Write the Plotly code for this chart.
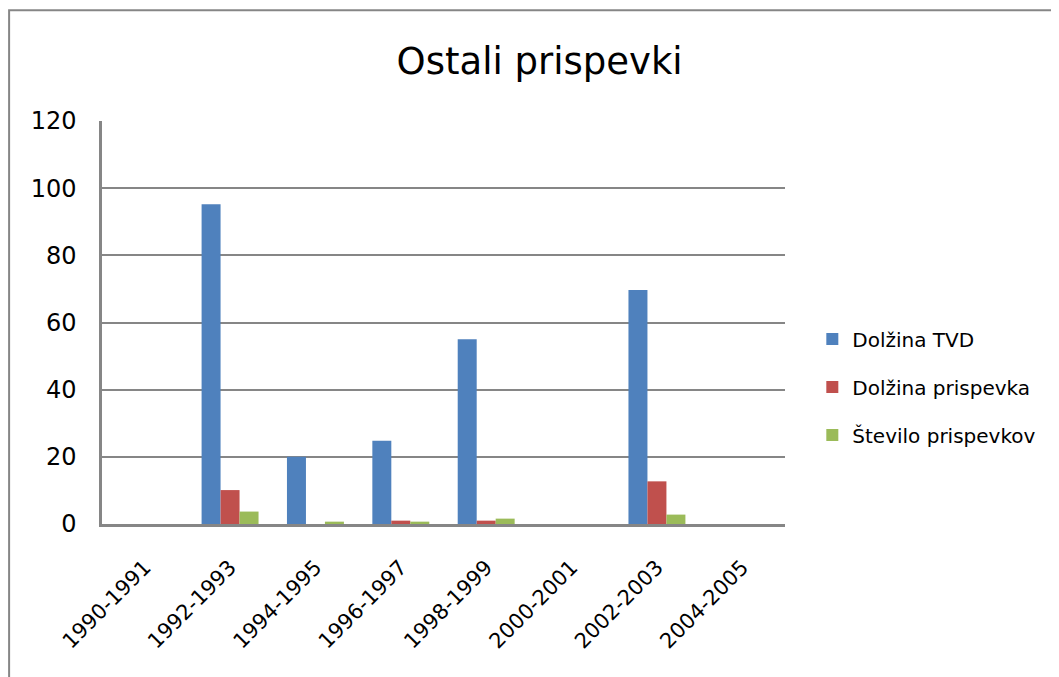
import plotly.graph_objects as go

# Podatki
obdobja = ["1990-1991", "1992-1993", "1994-1995", "1996-1997",
           "1998-1999", "2000-2001", "2002-2003", "2004-2005"]
dolzina_tvd = [0, 95.2, 20, 24.8, 55, 0, 69.7, 0]
dolzina_prispevka = [0, 10.1, 0, 1, 1, 0, 12.7, 0]
stevilo_prispevkov = [0, 3.7, 0.7, 0.7, 1.6, 0, 2.8, 0]

FONT = "DejaVu Sans, sans-serif"
GRAY = "#868686"

fig = go.Figure()
fig.add_trace(go.Bar(x=obdobja, y=dolzina_tvd, name="Dolžina TVD",
                     marker=dict(color="#4F81BD", line=dict(width=0)),
                     legendgroup="a"))
fig.add_trace(go.Bar(x=obdobja, y=dolzina_prispevka, name="Dolžina prispevka",
                     marker=dict(color="#C0504D", line=dict(width=0)),
                     legendgroup="b"))
fig.add_trace(go.Bar(x=obdobja, y=stevilo_prispevkov, name="Število prispevkov",
                     marker=dict(color="#9BBB59", line=dict(width=0)),
                     legendgroup="c"))

# okvir grafa (levi in zgornji rob)
fig.add_shape(type="path", xref="paper", yref="paper",
              path="M -0.136,-0.4 L -0.136,1.275 L 1.45,1.275",
              line=dict(color=GRAY, width=2))

fig.update_layout(
    width=1059, height=677,
    margin=dict(l=94, r=282, t=113, b=161),
    paper_bgcolor="white", plot_bgcolor="white",
    font=dict(family=FONT, size=20, color="black"),
    title=dict(text="Ostali prispevki", x=0.502, xanchor="center",
               y=0.922, yanchor="middle",
               font=dict(family=FONT, size=37, color="black")),
    barmode="group", bargap=0.333, bargroupgap=0,
    showlegend=True,
    legend=dict(x=1.04, xanchor="left", y=0.34, yanchor="middle",
                font=dict(family=FONT, size=20), tracegroupgap=19,
                bgcolor="rgba(0,0,0,0)"),
    xaxis=dict(tickangle=-45, showline=True, linecolor=GRAY, linewidth=2.5,
               showgrid=False, ticks="", ticklabelstandoff=20,
               tickfont=dict(size=21)),
    yaxis=dict(range=[0, 120], dtick=20, showline=True, linecolor=GRAY, linewidth=2.5,
               showgrid=True, gridcolor=GRAY, gridwidth=1.5, zeroline=False,
               ticks="", ticklabelstandoff=18, tickfont=dict(size=24)),
)

fig.write_html("out.html")
